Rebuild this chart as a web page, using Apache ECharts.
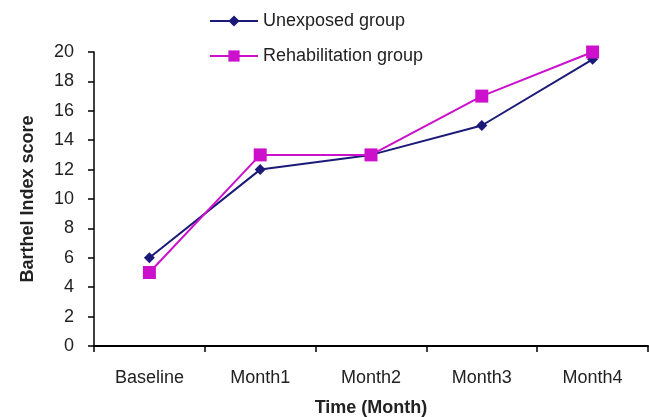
<!DOCTYPE html>
<html><head><meta charset="utf-8">
<script src="https://cdn.jsdelivr.net/npm/echarts@6/dist/echarts.min.js"></script>
<style>html,body{margin:0;padding:0;background:#fff}#c{width:649px;height:417px}</style>
</head><body><div id="c"></div>
<script>
const categories = ["Baseline","Month1","Month2","Month3","Month4"];
const unexposed = [6,12,13,15,19.5];
const rehab = [5,13,13,17,20];
const yTicks = {min:0,max:20,interval:2};

const chart = echarts.init(document.getElementById('c'));
const font = 'Liberation Sans, Arial, sans-serif';
chart.setOption({
  animation:false,
  backgroundColor:'#fff',
  legend:{
    orient:'vertical', left:204, top:7, itemGap:17, itemWidth:48, itemHeight:14,
    textStyle:{fontFamily:font,fontSize:18,color:'#222'},
    data:[{name:'Unexposed group'},{name:'Rehabilitation group'}]
  },
  grid:{left:94,right:1,top:52,bottom:71,containLabel:false,outerBoundsMode:'none'},
  xAxis:{
    type:'category', data:categories, boundaryGap:true,
    axisLine:{lineStyle:{color:'#000',width:2}},
    axisTick:{show:true,length:6,lineStyle:{color:'#000',width:1.5}},
    axisLabel:{fontFamily:font,fontSize:18,color:'#222',margin:23},
    name:'Time (Month)', nameLocation:'middle', nameGap:53,
    nameTextStyle:{fontFamily:font,fontSize:18,fontWeight:'bold',color:'#222'}
  },
  yAxis:{
    type:'value', min:yTicks.min, max:yTicks.max, interval:yTicks.interval,
    axisLine:{show:true,lineStyle:{color:'#000',width:1.5}},
    axisTick:{show:true,length:6,lineStyle:{color:'#000',width:1.5}},
    splitLine:{show:false},
    axisLabel:{fontFamily:font,fontSize:18,color:'#222',margin:20},
    name:'Barthel Index score', nameLocation:'middle', nameGap:57, nameRotate:90,
    nameTextStyle:{fontFamily:font,fontSize:18,fontWeight:'bold',color:'#222'}
  },
  series:[
    {name:'Unexposed group',type:'line',data:unexposed,symbol:'diamond',symbolSize:11,
     lineStyle:{color:'#1c1a78',width:2},itemStyle:{color:'#1c1a78'}},
    {name:'Rehabilitation group',type:'line',data:rehab,symbol:'rect',symbolSize:13,
     lineStyle:{color:'#cc10cc',width:2},itemStyle:{color:'#cc10cc'}}
  ]
});
</script></body></html>
